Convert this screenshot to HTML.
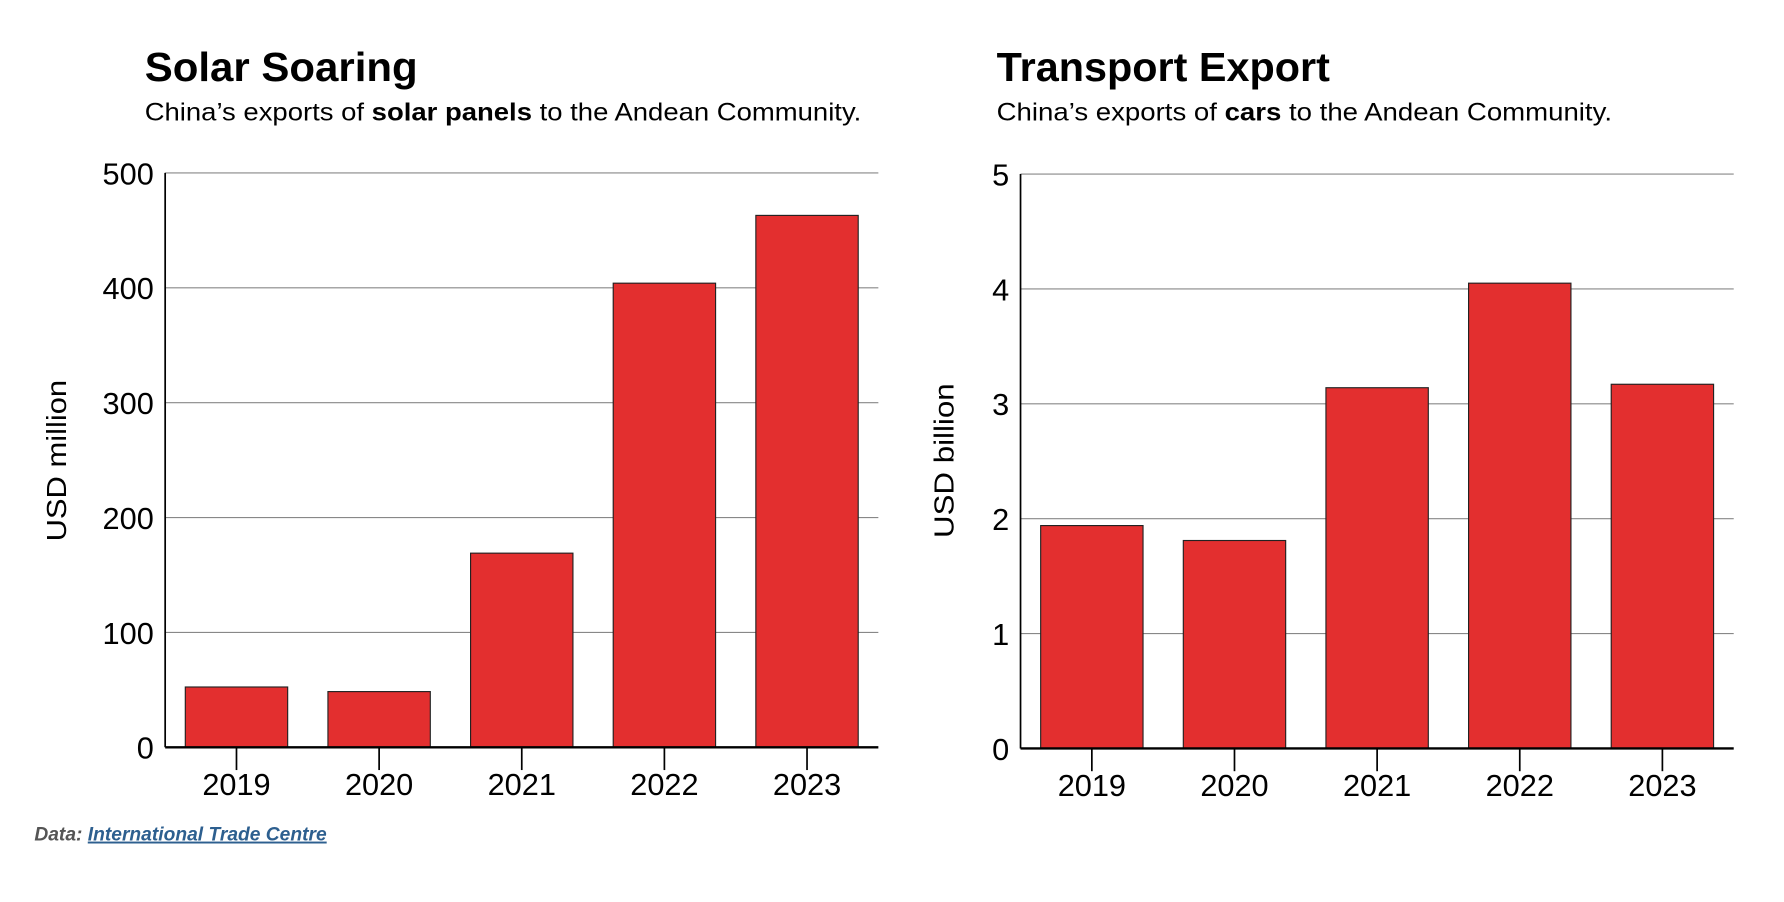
<!DOCTYPE html>
<html><head><meta charset="utf-8">
<style>
html,body{margin:0;padding:0;background:#fff;}
svg{display:block;}
text{font-family:"Liberation Sans",sans-serif;fill:#000;}
</style></head>
<body>
<svg id="chart" width="1784" height="902" viewBox="0 0 1568 793" xmlns="http://www.w3.org/2000/svg">
<g id="left">
<text x="127" y="71" font-size="36" font-weight="bold" textLength="240" lengthAdjust="spacingAndGlyphs">Solar Soaring</text>
<text x="127" y="106" font-size="22" textLength="630" lengthAdjust="spacingAndGlyphs">China’s exports of <tspan font-weight="bold">solar panels</tspan> to the Andean Community.</text>
<text transform="translate(58,405) rotate(-90)" text-anchor="middle" font-size="24" textLength="142" lengthAdjust="spacingAndGlyphs">USD million</text>
</g>
<g id="right">
<text x="876" y="71" font-size="36" font-weight="bold" textLength="293" lengthAdjust="spacingAndGlyphs">Transport Export</text>
<text x="876" y="106" font-size="22" textLength="541" lengthAdjust="spacingAndGlyphs">China’s exports of <tspan font-weight="bold">cars</tspan> to the Andean Community.</text>
<text transform="translate(838,405) rotate(-90)" text-anchor="middle" font-size="24" textLength="136" lengthAdjust="spacingAndGlyphs">USD billion</text>
</g>
<text x="30" y="739" font-size="17" font-style="italic" font-weight="bold" fill="#555" style="fill:#555" textLength="257" lengthAdjust="spacingAndGlyphs">Data: <tspan fill="#2d5f8f" style="fill:#2d5f8f" text-decoration="underline">International Trade Centre</tspan></text>
</svg>
<script>
const categories = ["2019","2020","2021","2022","2023"];
const solarValues = [52.5, 48.5, 169, 404, 463];
const carValues = [1.94, 1.81, 3.14, 4.05, 3.17];
const solarTicks = [0,100,200,300,400,500];
const carTicks = [0,1,2,3,4,5];
const NS = "http://www.w3.org/2000/svg";
function mk(tag, attrs, parent){
  const e = document.createElementNS(NS, tag);
  for (const k in attrs) e.setAttribute(k, attrs[k]);
  parent.appendChild(e);
  return e;
}
function draw(gid, x0, x1, y0, y1, maxV, ticks, values, prefix){
  const g = document.getElementById(gid);
  const yS = v => y0 - (v / maxV) * (y0 - y1);
  const band = (x1 - x0) / categories.length;
  const xS = i => x0 + band * (i + 0.5);
  ticks.forEach(t => {
    if (t > 0) {
      const gl = mk('line', {x1:x0, x2:x1, y1:yS(t), y2:yS(t), stroke:'#888', 'stroke-width':1}, g);
      
      
    }
    const tl = mk('text', {x:x0 - 10, y:yS(t) + 10, 'text-anchor':'end', 'font-size':27}, g);
    tl.textContent = t;
    
    
  });
  values.forEach((v, i) => {
    const w = 90;
    const b = mk('rect', {x:xS(i) - w/2, y:yS(v), width:w, height:y0 - yS(v), fill:'#e32f2f', stroke:'#222', 'stroke-width':1}, g);
    
    
    const tk = mk('line', {x1:xS(i), x2:xS(i), y1:y0, y2:y0 + 20, stroke:'#000', 'stroke-width':1.5}, g);
    
    
    const xl = mk('text', {x:xS(i), y:y0 + 42, 'text-anchor':'middle', 'font-size':27}, g);
    xl.textContent = categories[i];
    
    
  });
  const ya = mk('line', {x1:x0, x2:x0, y1:y1, y2:y0, stroke:'#000', 'stroke-width':1.5}, g);
  
  
  const xa = mk('line', {x1:x0, x2:x1, y1:y0, y2:y0, stroke:'#000', 'stroke-width':2}, g);
  
  
}
draw('left', 145, 772, 657, 152, 500, solarTicks, solarValues, 'solar');
draw('right', 897, 1524, 658, 153, 5, carTicks, carValues, 'transport');
</script>
</body></html>
